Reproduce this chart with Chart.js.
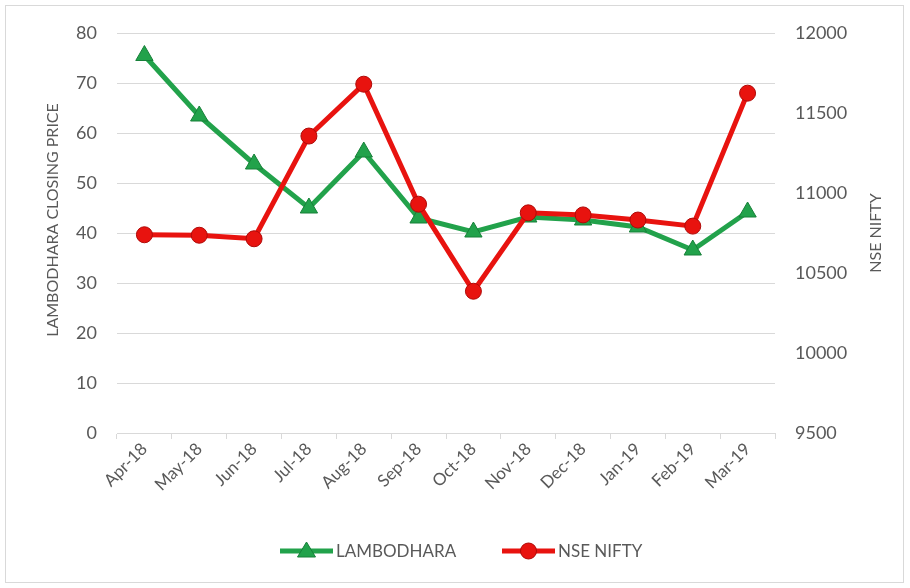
<!DOCTYPE html>
<html>
<head>
<meta charset="utf-8">
<script src="https://cdn.jsdelivr.net/npm/chart.js@4/dist/chart.umd.min.js"></script>
<style>
html,body{margin:0;padding:0;background:#fff;}
#wrap{width:910px;height:588px;position:relative;}
</style>
</head>
<body>
<div id="wrap"><canvas id="c" width="910" height="588"></canvas></div>
<script>
const categories = ["Apr-18","May-18","Jun-18","Jul-18","Aug-18","Sep-18","Oct-18","Nov-18","Dec-18","Jan-19","Feb-19","Mar-19"];
const lambodhara = [75.5, 63.4, 53.8, 45.0, 56.2, 43.0, 40.2, 43.2, 42.6, 41.2, 36.6, 44.2];
const nifty = [10739, 10736, 10714, 11356, 11680, 10930, 10386, 10876, 10863, 10831, 10793, 11624];
const leftTicks = [0, 80, 10];      // min, max, step
const rightTicks = [9500, 12000, 500];
const seriesNames = ["LAMBODHARA", "NSE NIFTY"];
const leftTitle = "LAMBODHARA CLOSING PRICE";
const rightTitle = "NSE NIFTY";

const FONT = "Lato, 'Open Sans', sans-serif";
const TXT = "#595959";
const GREEN = "#22A24B", GREEN_D = "#178039";
const RED = "#E8130F", RED_D = "#B00A08";

const extras = {
  id: "extras",
  beforeDraw(chart) {
    const ctx = chart.ctx;
    ctx.save();
    ctx.fillStyle = "#fff";
    ctx.fillRect(0, 0, chart.width, chart.height);
    ctx.strokeStyle = "#d9d9d9";
    ctx.lineWidth = 1;
    ctx.strokeRect(5.5, 5.5, 898, 577);
    ctx.restore();
  },
  afterDraw(chart) {
    const ctx = chart.ctx;
    ctx.save();
    ctx.fillStyle = TXT;
    ctx.font = "16px " + FONT;
    ctx.textAlign = "center";
    ctx.textBaseline = "middle";
    ctx.save();
    ctx.translate(53, 220);
    ctx.rotate(-Math.PI / 2);
    ctx.fillText(leftTitle, 0, 0);
    ctx.restore();
    ctx.save();
    ctx.translate(876, 233);
    ctx.rotate(-Math.PI / 2);
    ctx.fillText(rightTitle, 0, 0);
    ctx.restore();
    const ly = 551;
    const items = [
      {x: 280, name: seriesNames[0], col: GREEN, dark: GREEN_D, style: "triangle"},
      {x: 502, name: seriesNames[1], col: RED, dark: RED_D, style: "circle"}
    ];
    ctx.font = "17px " + FONT;
    ctx.textAlign = "left";
    items.forEach(it => {
      ctx.strokeStyle = it.col;
      ctx.lineWidth = 5;
      ctx.beginPath();
      ctx.moveTo(it.x, ly);
      ctx.lineTo(it.x + 53, ly);
      ctx.stroke();
      ctx.fillStyle = it.col;
      ctx.strokeStyle = it.dark;
      ctx.lineWidth = 1;
      const cx = it.x + 26.5;
      ctx.beginPath();
      if (it.style === "circle") {
        ctx.arc(cx, ly, 8, 0, Math.PI * 2);
      } else {
        ctx.moveTo(cx, ly - 9);
        ctx.lineTo(cx + 9, ly + 6);
        ctx.lineTo(cx - 9, ly + 6);
        ctx.closePath();
      }
      ctx.fill();
      ctx.stroke();
      ctx.fillStyle = TXT;
      ctx.fillText(it.name, it.x + 56, ly + 1);
    });
    ctx.restore();
  }
};

new Chart(document.getElementById("c"), {
  type: "line",
  data: {
    labels: categories,
    datasets: [
      {
        label: seriesNames[0],
        data: lambodhara,
        yAxisID: "y",
        order: 2,
        borderColor: GREEN,
        backgroundColor: GREEN,
        borderWidth: 5,
        pointStyle: "triangle",
        pointRadius: 10,
        pointBackgroundColor: GREEN,
        pointBorderColor: GREEN_D,
        pointBorderWidth: 1,
        tension: 0
      },
      {
        label: seriesNames[1],
        data: nifty,
        yAxisID: "y1",
        order: 1,
        borderColor: RED,
        backgroundColor: RED,
        borderWidth: 5,
        pointStyle: "circle",
        pointRadius: 8,
        pointBackgroundColor: RED,
        pointBorderColor: RED_D,
        pointBorderWidth: 1,
        tension: 0
      }
    ]
  },
  options: {
    responsive: false,
    animation: false,
    devicePixelRatio: 1,
    layout: {padding: {top: 33, left: 0, right: 0, bottom: 0}},
    plugins: {legend: {display: false}, tooltip: {enabled: false}},
    scales: {
      x: {
        offset: true,
        grid: {display: true, drawOnChartArea: false, drawTicks: true, tickLength: 6, offset: true, color: "#d9d9d9"},
        border: {display: true, color: "#d9d9d9", width: 1},
        ticks: {color: TXT, font: {family: FONT, size: 17}, minRotation: 45, maxRotation: 45, padding: 0, autoSkip: false},
        afterFit(s) { s.height = 155; }
      },
      y: {
        position: "left",
        min: leftTicks[0], max: leftTicks[1],
        ticks: {stepSize: leftTicks[2], color: TXT, font: {family: FONT, size: 18}, padding: 20},
        grid: {color: "#d9d9d9", drawTicks: false},
        border: {display: false},
        afterFit(s) { s.width = 117; }
      },
      y1: {
        position: "right",
        min: rightTicks[0], max: rightTicks[1],
        ticks: {stepSize: rightTicks[2], color: TXT, font: {family: FONT, size: 18}, padding: 20,
                callback: v => String(v)},
        grid: {drawOnChartArea: false, drawTicks: false},
        border: {display: false},
        afterFit(s) { s.width = 135; }
      }
    }
  },
  plugins: [extras]
});
</script>
</body>
</html>
